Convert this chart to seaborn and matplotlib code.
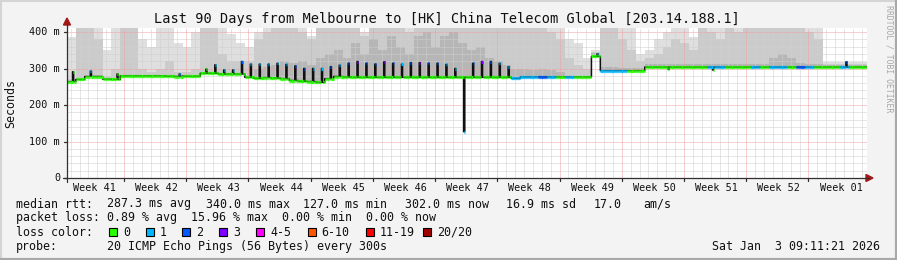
import numpy as np
import pandas as pd
import matplotlib
matplotlib.use("Agg")
import matplotlib.pyplot as plt
import seaborn as sns
from matplotlib.patches import Rectangle, Polygon
from matplotlib.lines import Line2D

# ---------------- data ----------------
title = "Last 90 Days from Melbourne to [HK] China Telecom Global [203.14.188.1]"
week_labels = ["Week 41", "Week 42", "Week 43", "Week 44", "Week 45", "Week 46", "Week 47",
               "Week 48", "Week 49", "Week 50", "Week 51", "Week 52", "Week 01"]
first_week_start = -0.59          # day (from left edge) where week 41 begins
n_days = 90
y_ticks = [0, 100, 200, 300, 400]
y_tick_labels = ["0", "100 m", "200 m", "300 m", "400 m"]
y_top = 411

# median rtt (ms) per day: base level and spike value (nan = no spike)
median_base = [264, 270, 278, 278, 271, 270, 280, 280, 280, 280,
               280, 279, 278, 279, 279, 287, 287, 285, 285, 285,
               276, 273, 275, 274, 272, 267, 265, 264, 262, 272,
               278, 277, 276, 276, 276, 276, 276, 276, 276, 276,
               276, 276, 276, 276, 276, 276, 276, 276, 276, 276,
               273, 277, 277, 277, 277, 277, 277, 277, 277, 333,
               294, 294, 294, 294, 294, 304, 304, 304, 304, 304,
               304, 304, 304, 304, 304, 304, 304, 304, 304, 304,
               304, 304, 304, 304, 304, 304, 304, 304, 304, 304]
nan = np.nan
median_peak = [291, nan, 293, nan, nan, 285, nan, nan, nan, nan,
               nan, nan, 285, nan, nan, 298, 310, 296, 296, 319,
               312, 312, 312, 314, 311, 307, 300, 300, 300, 305,
               309, 314, 319, 314, 312, 318, 314, 312, 316, 316,
               314, 314, 311, 300, 127, 314, 319, 319, 314, 305,
               nan, nan, nan, nan, nan, nan, nan, nan, nan, 340,
               nan, nan, nan, nan, nan, nan, nan, 298, nan, nan,
               nan, nan, 296, nan, nan, nan, nan, nan, nan, nan,
               nan, nan, nan, nan, nan, nan, nan, 318, nan, nan]
# loss class (index into loss legend) of the median line
loss_base = [0] * 50 + [1, 1, 1, 2, 1, 0, 1, 0, 0, 0,
                        1, 1, 1, 0, 0, 0, 0, 0, 0, 0,
                        0, 0, 1, 1, 0, 0, 0, 1, 0, 1,
                        1, 0, 2, 1, 0, 0, 0, 1, 0, 0]
loss_peak = [0, 0, 1, 0, 0, 0, 0, 0, 0, 0,
             0, 0, 1, 0, 0, 0, 1, 1, 1, 2,
             1, 1, 1, 1, 1, 2, 2, 1, 1, 2,
             1, 2, 3, 2, 2, 3, 2, 1, 2, 3,
             2, 2, 1, 1, 1, 2, 3, 2, 1, 1,
             1, 1, 1, 2, 1, 0, 1, 0, 0, 1,
             1, 1, 1, 0, 0, 0, 0, 0, 0, 0,
             0, 0, 0, 1, 0, 0, 0, 1, 0, 1,
             1, 0, 2, 1, 0, 0, 0, 2, 0, 0]
# smoke (ping spread) upper envelopes per day (ms)
smoke_light = [385, 411, 411, 411, 350, 411, 411, 411, 380, 360,
               411, 411, 370, 360, 400, 411, 411, 411, 395, 370,
               360, 400, 411, 411, 411, 411, 411, 390, 411, 411,
               411, 411, 411, 400, 411, 411, 411, 411, 411, 411,
               411, 411, 411, 411, 411, 411, 411, 411, 411, 411,
               411, 411, 411, 411, 411, 411, 380, 370, 330, 350,
               411, 411, 411, 411, 340, 350, 380, 400, 411, 411,
               385, 411, 411, 411, 411, 411, 411, 411, 411, 411,
               411, 411, 411, 411, 411, 318, 318, 318, 318, 318]
smoke_mid = [270, 411, 411, 380, 280, 300, 411, 411, 300, 290,
             300, 320, 290, 290, 300, 411, 411, 340, 320, 320,
             320, 380, 400, 411, 411, 411, 400, 380, 411, 411,
             411, 411, 411, 390, 411, 411, 411, 411, 400, 411,
             411, 411, 411, 411, 411, 411, 411, 411, 411, 411,
             411, 411, 411, 411, 400, 380, 330, 310, 300, 345,
             411, 411, 380, 350, 320, 330, 340, 360, 380, 370,
             350, 411, 400, 380, 411, 400, 411, 411, 411, 411,
             411, 411, 411, 400, 380, 312, 312, 312, 312, 312]
smoke_dark = [0] * 21 + [300, 305, 310, 320, 315, 320, 310, 330, 340,
                         350, 330, 370, 340, 380, 350, 390, 360, 340, 390,
                         400, 360, 390, 400, 370, 350, 360, 330, 320, 310,
                         300, 300, 295, 300, 295, 290, 0, 0, 0, 342,
                         305, 305, 302, 302, 302, 312, 312, 312, 312, 312,
                         312, 312, 312, 312, 312, 312, 312, 312, 312, 330,
                         340, 330, 315, 312, 312, 309, 309, 309, 309, 309]

loss_labels = ["0", "1", "2", "3", "4-5", "6-10", "11-19", "20/20"]
loss_colors = ["#26ff00", "#00b8ff", "#0059ff", "#7e00ff", "#ff00ff", "#ff5500", "#ff0000", "#a10000"]

stats_rtt = ["287.3 ms avg", "340.0 ms max", "127.0 ms min", "302.0 ms now", "16.9 ms sd", "17.0", "am/s"]
stats_loss = "0.89 % avg  15.96 % max  0.00 % min  0.00 % now"
probe_text = "20 ICMP Echo Pings (56 Bytes) every 300s"
timestamp = "Sat Jan  3 09:11:21 2026"

# ---------------- figure ----------------
W, H = 897, 260
sns.set_theme(style="white")
plt.rcParams["font.family"] = ["DejaVu Sans Mono"]
fig = plt.figure(figsize=(W / 100, H / 100), dpi=100, facecolor="#f3f3f3")

L, R, T, B = 67, 867, 28, 178
ax = fig.add_axes([L / W, 1 - B / H, (R - L) / W, (B - T) / H])
ax.set_facecolor("white")
ax.set_xlim(0, n_days)
ax.set_ylim(0, y_top)
for s in ax.spines.values():
    s.set_visible(False)


def fx(x):
    return x / W


def fy(y):
    return 1 - y / H


# smoke layers
days = np.arange(n_days + 1)
base_arr = np.array(median_base, float)
base_ext = np.append(base_arr, base_arr[-1])
for arr, col, z in [(smoke_light, "#dfdfdf", 1), (smoke_mid, "#cbcbcb", 2), (smoke_dark, "#b6b6b6", 3)]:
    top = np.maximum(np.array(arr, float), base_arr - 2)
    top = np.append(top, top[-1])
    ax.fill_between(days, base_ext - 2, top, step="post", color=col, lw=0, zorder=z)

# grid
dot = (0, (1, 1))
for v in range(20, y_top, 20):
    if v % 100:
        ax.axhline(v, color="#cfcfcf", lw=0.72, ls=dot, zorder=4)
for v in y_ticks[1:]:
    ax.axhline(v, color="#f0a0a0", lw=0.72, ls=dot, zorder=4)
d = first_week_start
while d < n_days:
    if d > 0:
        r = (d - first_week_start) / 7
        is_week = abs(r - round(r)) < 1e-6
        ax.axvline(d, color="#f0a0a0" if is_week else "#cfcfcf", lw=0.72, ls=dot, zorder=4)
    d += 1

# median series (8 samples per day)
spd = 8
t = np.arange(n_days * spd) / spd
med = np.repeat(base_arr, spd)
cls = np.repeat(np.array(loss_base), spd)
pk = np.array(median_peak, float)
for i in range(n_days):
    if not np.isnan(pk[i]):
        med[i * spd + 5] = pk[i]
        cls[i * spd + 5] = loss_peak[i]
df = pd.DataFrame({"t": np.append(t, n_days), "rtt": np.append(med, med[-1])})
sns.lineplot(data=df, x="t", y="rtt", ax=ax, drawstyle="steps-post", color="#101010",
             lw=1.1, estimator=None, zorder=5)
ax.hlines(med, t, t + 1 / spd, colors=[loss_colors[c] for c in cls], lw=2.3,
          zorder=6, capstyle="butt")

ax.set_xlabel("")
ax.set_ylabel("")
ax.set_xticks([])
ax.set_yticks([])

# axes lines + arrows
ax_col = "#303030"
fig.add_artist(Line2D([fx(L), fx(L)], [fy(B + 4), fy(24)], color=ax_col, lw=0.9, transform=fig.transFigure))
fig.add_artist(Line2D([fx(L - 4), fx(R + 2)], [fy(B), fy(B)], color=ax_col, lw=0.9, transform=fig.transFigure))
arrow_col = "#a01818"
fig.add_artist(Polygon([(fx(L - 3.5), fy(25)), (fx(L + 3.5), fy(25)), (fx(L), fy(18))], closed=True,
                       color=arrow_col, transform=fig.transFigure))
fig.add_artist(Polygon([(fx(R - 1), fy(B - 3.5)), (fx(R - 1), fy(B + 3.5)), (fx(R + 6), fy(B))], closed=True,
                       color=arrow_col, transform=fig.transFigure))

# y ticks
px_per = (B - T) / y_top
for v, lab in zip(y_ticks, y_tick_labels):
    yp = B - v * px_per
    fig.add_artist(Line2D([fx(L - 3), fx(L)], [fy(yp), fy(yp)], color=ax_col, lw=0.9, transform=fig.transFigure))
    fig.text(fx(60), fy(yp), lab, ha="right", va="center", fontsize=7.3, color="#101010")

# x labels & ticks
ppd = (R - L) / n_days
for i, lab in enumerate(week_labels):
    ws = first_week_start + 7 * i
    xc = L + (ws + 3.5) * ppd
    fig.text(fx(xc + 1.5), fy(188), lab, ha="center", va="center", fontsize=7.3, color="#101010")
    xl = L + (ws + 7) * ppd
    if xl < R:
        fig.add_artist(Line2D([fx(xl), fx(xl)], [fy(B), fy(B + 3)], color=ax_col, lw=0.9,
                              transform=fig.transFigure))

# title and side texts
fig.text(fx(447), fy(18.5), title, ha="center", va="center", fontsize=9.8, color="#101010")
fig.text(fx(10.5), fy(104), "Seconds", ha="center", va="center", rotation=90, fontsize=8.4, color="#101010")
fig.text(fx(889), fy(5), "RRDTOOL / TOBI OETIKER", ha="center", va="top", rotation=270,
         fontsize=5.9, color="#a8a8a8")

# legend lines
fs = 8.4
txt = "#101010"
fig.text(fx(16), fy(204), "median rtt:", ha="left", va="center", fontsize=fs, color=txt)
for xpos, s in zip([107, 206, 303, 405, 506, 594, 643], stats_rtt):
    fig.text(fx(xpos), fy(204), s, ha="left", va="center", fontsize=fs, color=txt)
fig.text(fx(16), fy(218), "packet loss: " + stats_loss, ha="left", va="center", fontsize=fs, color=txt)
fig.text(fx(16), fy(232), "loss color:", ha="left", va="center", fontsize=fs, color=txt)
box_x = [109, 145.7, 182.3, 219, 256, 307.7, 365.7, 423.3]
for bx, c, lab in zip(box_x, loss_colors, loss_labels):
    fig.add_artist(Rectangle((fx(bx), fy(236)), 8 / W, 8 / H, facecolor=c, edgecolor="black", lw=0.8,
                             transform=fig.transFigure))
    fig.text(fx(bx + 14), fy(232), lab, ha="left", va="center", fontsize=fs, color=txt)
fig.text(fx(16), fy(246.5), "probe:", ha="left", va="center", fontsize=fs, color=txt)
fig.text(fx(107), fy(246.5), probe_text, ha="left", va="center", fontsize=fs, color=txt)
fig.text(fx(880), fy(246.5), timestamp, ha="right", va="center", fontsize=fs, color=txt)

# frame
fig.add_artist(Line2D([0, 0, 1], [0, 1, 1], color="#d4d4d4", lw=2.2, transform=fig.transFigure))
fig.add_artist(Line2D([0, 1, 1], [0, 0, 1], color="#a9a9a9", lw=3.0, transform=fig.transFigure))

fig.savefig("out.png", dpi=100, facecolor=fig.get_facecolor())
